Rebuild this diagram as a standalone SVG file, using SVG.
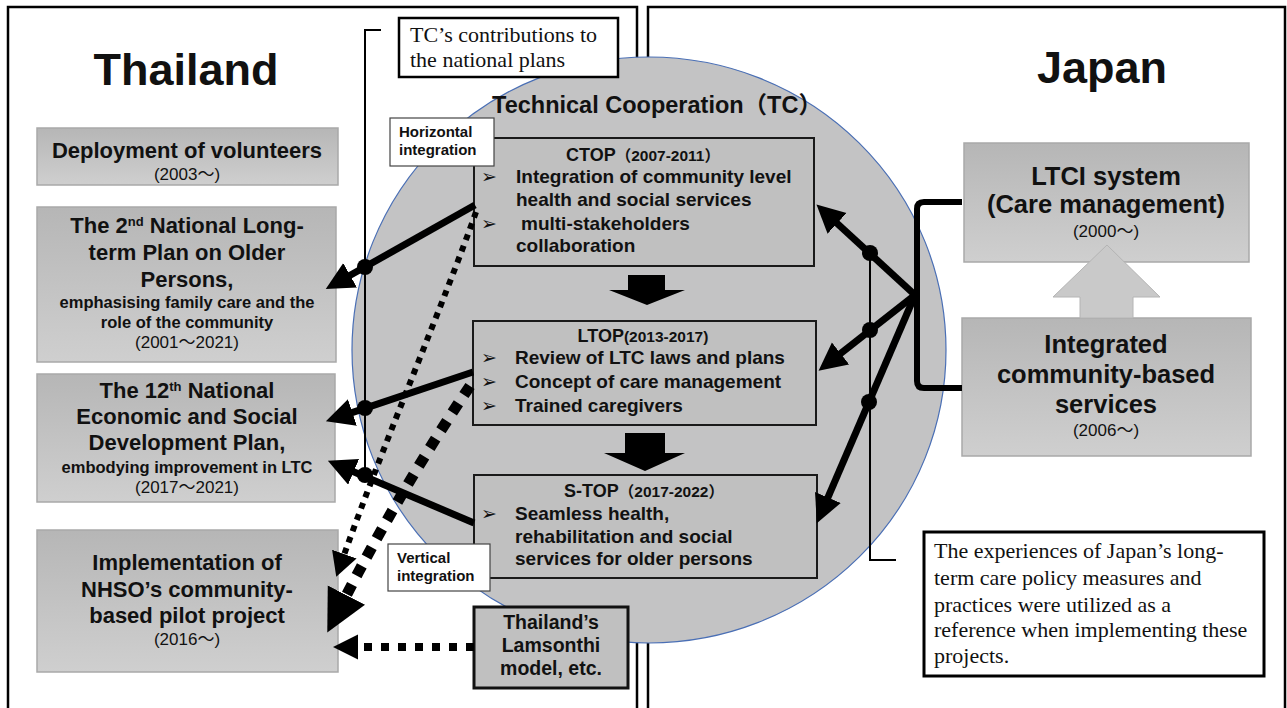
<svg xmlns="http://www.w3.org/2000/svg" width="1287" height="708" viewBox="0 0 1287 708">
<defs>
<style>
.t{font-family:"Liberation Sans","Noto Sans CJK JP",sans-serif;font-weight:bold;fill:#111;}
.big{font-size:45px;}
.h{font-size:22px;}
.s{font-size:16.5px;}
.y{font-size:17px;font-weight:normal;}
.tc{font-size:19px;}
.ti{font-size:18px;}
.jp{font-size:25.5px;}
.lab{font-size:15px;}
.serif{font-family:"Liberation Serif","Noto Sans CJK JP",serif;font-size:22px;fill:#111;}
.bul{font-family:"DejaVu Sans",sans-serif;font-size:19px;font-weight:normal;}
.gb{fill:url(#grad);stroke:#a9a9a9;stroke-width:1.5;}
.tb{fill:#c0c0c0;stroke:#1a1a1a;stroke-width:2;}
.wb{fill:#fff;stroke:#444;stroke-width:1.2;}
.sol{stroke:#000;stroke-width:7;fill:none;}
.thin{stroke:#000;stroke-width:2;fill:none;}
</style>
<linearGradient id="grad" x1="0" y1="0" x2="0" y2="1">
<stop offset="0" stop-color="#b6b6b6"/>
<stop offset="1" stop-color="#cfcfcf"/>
</linearGradient>
<marker id="ah" markerUnits="userSpaceOnUse" markerWidth="30" markerHeight="30" refX="2" refY="14" orient="auto">
<path d="M0,0 L28,14 L0,28 z" fill="#000"/>
</marker>
<marker id="ahs" markerUnits="userSpaceOnUse" markerWidth="26" markerHeight="28" refX="1" refY="13" orient="auto">
<path d="M0,0 L24,13 L0,26 z" fill="#000"/>
</marker>
<marker id="ahb" markerUnits="userSpaceOnUse" markerWidth="44" markerHeight="44" refX="1" refY="21" orient="auto">
<path d="M0,0 L42,21 L0,42 z" fill="#000"/>
</marker>
<marker id="ahl" markerUnits="userSpaceOnUse" markerWidth="27" markerHeight="27" refX="1" refY="12.5" orient="auto">
<path d="M0,0 L25,12.5 L0,25 z" fill="#000"/>
</marker>
</defs>

<!-- panels -->
<g id="panels">
<rect x="8" y="7" width="629" height="720" fill="#fff" stroke="#000" stroke-width="2.5"/>
<rect x="648" y="7" width="637" height="720" fill="#fff" stroke="#000" stroke-width="2.5"/>
</g>

<!-- TC circle -->
<g id="tc-circle">
<ellipse cx="649" cy="350" rx="297" ry="293" fill="#c3c3c4" stroke="#4a6fb5" stroke-width="1.2"/>
<text class="t" x="657" y="113" font-size="23.5" text-anchor="middle">Technical Cooperation（TC）</text>
</g>

<g id="thailand-title"><text class="t big" x="186" y="85" text-anchor="middle">Thailand</text></g>
<g id="japan-title"><text class="t big" x="1102" y="83" text-anchor="middle" font-size="42">Japan</text></g>

<g id="deployment">
<rect class="gb" x="37" y="128" width="301" height="57"/>
<text class="t" text-anchor="middle"><tspan class="h" x="187" y="158">Deployment of volunteers</tspan><tspan class="y" x="187" y="180">(2003～)</tspan></text>
</g>

<g id="plan2">
<rect class="gb" x="37" y="207" width="299" height="155"/>
<text class="t" text-anchor="middle"><tspan class="h" x="187" y="233">The 2<tspan font-size="13" baseline-shift="super">nd</tspan> National Long-</tspan><tspan class="h" x="187" y="260">term Plan on Older</tspan><tspan class="h" x="187" y="287">Persons,</tspan><tspan class="s" x="187" y="308">emphasising family care and the</tspan><tspan class="s" x="187" y="328">role of the community</tspan><tspan class="y" x="187" y="348">(2001～2021)</tspan></text>
</g>

<g id="plan12">
<rect class="gb" x="37" y="374" width="298" height="128"/>
<text class="t" text-anchor="middle"><tspan class="h" x="187" y="398">The 12<tspan font-size="13" baseline-shift="super">th</tspan> National</tspan><tspan class="h" x="187" y="424">Economic and Social</tspan><tspan class="h" x="187" y="450">Development Plan,</tspan><tspan class="s" x="187" y="473">embodying improvement in LTC</tspan><tspan class="y" x="187" y="493">(2017～2021)</tspan></text>
</g>

<g id="nhso">
<rect class="gb" x="37" y="530" width="301" height="142"/>
<text class="t" text-anchor="middle"><tspan class="h" x="187" y="570">Implementation of</tspan><tspan class="h" x="187" y="597">NHSO’s community-</tspan><tspan class="h" x="187" y="623">based pilot project</tspan><tspan class="y" x="187" y="645">(2016～)</tspan></text>
</g>

<g id="tc-contrib">
<rect x="399" y="18" width="219" height="59" fill="#fff" stroke="#000" stroke-width="2.5"/>
<text class="serif"><tspan x="410" y="42">TC’s contributions to</tspan><tspan x="410" y="67">the national plans</tspan></text>
</g>

<g id="ctop">
<rect class="tb" x="474" y="138" width="340" height="128"/>
<text class="t ti" x="643" y="161" text-anchor="middle">CTOP<tspan font-size="15.5">（2007-2011）</tspan></text>
<text class="t tc"><tspan class="bul" x="481" y="183">➢</tspan><tspan x="516" y="183">Integration of community level</tspan><tspan x="516" y="206">health and social services</tspan><tspan class="bul" x="481" y="230">➢</tspan><tspan x="521" y="230">multi-stakeholders</tspan><tspan x="516" y="252">collaboration</tspan></text>
</g>

<g id="ltop">
<rect class="tb" x="473" y="321" width="343" height="104"/>
<text class="t ti" x="643" y="342" text-anchor="middle">LTOP<tspan font-size="15.5">(2013-2017)</tspan></text>
<text class="t tc"><tspan class="bul" x="481" y="364">➢</tspan><tspan x="515" y="364">Review of LTC laws and plans</tspan><tspan class="bul" x="481" y="388">➢</tspan><tspan x="515" y="388">Concept of care management</tspan><tspan class="bul" x="481" y="412">➢</tspan><tspan x="515" y="412">Trained caregivers</tspan></text>
</g>

<g id="stop">
<rect class="tb" x="474" y="475" width="343" height="103"/>
<text class="t ti" x="644" y="497" text-anchor="middle">S-TOP<tspan font-size="15.5">（2017-2022）</tspan></text>
<text class="t tc"><tspan class="bul" x="481" y="520">➢</tspan><tspan x="515" y="520">Seamless health,</tspan><tspan x="515" y="543">rehabilitation and social</tspan><tspan x="515" y="565">services for older persons</tspan></text>
</g>

<g id="horizontal">
<rect class="wb" x="390" y="118" width="104" height="48"/>
<text class="t lab"><tspan x="399" y="137">Horizontal</tspan><tspan x="399" y="155">integration</tspan></text>
</g>

<g id="vertical">
<rect class="wb" x="388" y="544" width="102" height="47"/>
<text class="t lab"><tspan x="397" y="563">Vertical</tspan><tspan x="397" y="581">integration</tspan></text>
</g>

<g id="lamsonthi">
<rect x="474" y="607" width="154" height="81" fill="#c0c0c0" stroke="#111" stroke-width="3"/>
<text class="t" font-size="19.5" text-anchor="middle"><tspan x="551" y="629">Thailand’s</tspan><tspan x="551" y="652">Lamsonthi</tspan><tspan x="551" y="675">model, etc.</tspan></text>
</g>

<g id="ltci">
<rect class="gb" x="964" y="143" width="285" height="119"/>
<text class="t" text-anchor="middle"><tspan class="jp" x="1106" y="185">LTCI system</tspan><tspan class="jp" x="1106" y="213">(Care management)</tspan><tspan class="y" x="1106" y="237">(2000～)</tspan></text>
</g>

<g id="integrated">
<rect class="gb" x="962" y="318" width="289" height="138"/>
<text class="t" text-anchor="middle"><tspan class="jp" x="1106" y="353">Integrated</tspan><tspan class="jp" x="1106" y="383">community-based</tspan><tspan class="jp" x="1106" y="413">services</tspan><tspan class="y" x="1106" y="436">(2006～)</tspan></text>
</g>

<g id="experiences">
<rect x="924" y="532" width="340" height="144" fill="#fff" stroke="#000" stroke-width="3"/>
<text class="serif"><tspan x="934" y="558">The experiences of Japan’s long-</tspan><tspan x="934" y="585">term care policy measures and</tspan><tspan x="934" y="612">practices were utilized as a</tspan><tspan x="934" y="637">reference when implementing these</tspan><tspan x="934" y="663">projects.</tspan></text>
</g>

<!-- connectors -->
<g id="connectors">
<polygon points="628,275 665,275 665,290 685,290 647,305 609,290 628,290" fill="#000"/>
<polygon points="625,433 665,433 665,453 685,453 645,471 604,453 625,453" fill="#000"/>
<polygon points="1107,245 1160,297 1133,297 1133,318 1080,318 1080,297 1053,297" fill="#c9c9c9" stroke="#b4b4b4" stroke-width="1"/>
<path class="thin" d="M381,30 H365 V475"/>
<path class="thin" d="M870,253 V560 H896"/>
<path d="M962,202 H924 Q917,202 917,209 V381 Q917,388 924,388 H962" fill="none" stroke="#000" stroke-width="6"/>
<line class="sol" x1="475" y1="205" x2="348.4" y2="276.3" marker-end="url(#ah)"/>
<line class="sol" x1="473" y1="372" x2="350.5" y2="413.1" marker-end="url(#ah)"/>
<line class="sol" x1="474" y1="523" x2="351.8" y2="471" marker-end="url(#ah)"/>
<circle cx="365" cy="267" r="8"/>
<circle cx="365" cy="408" r="8"/>
<circle cx="365" cy="475" r="8"/>
<line class="sol" x1="915" y1="295" x2="835.6" y2="222" marker-end="url(#ah)"/>
<line class="sol" x1="915" y1="295" x2="839" y2="354.7" marker-end="url(#ah)"/>
<line class="sol" x1="915" y1="295" x2="827.1" y2="499.3" marker-end="url(#ah)"/>
<circle cx="870" cy="253" r="8"/>
<circle cx="870" cy="330" r="8"/>
<circle cx="869" cy="402" r="8"/>
<path d="M476,212 C445,300 385,440 344,555" fill="none" stroke="#000" stroke-width="6" stroke-dasharray="6 6" marker-end="url(#ahs)"/>
<path d="M470,386 C430,445 385,520 346,596" fill="none" stroke="#000" stroke-width="11" stroke-dasharray="11 10" marker-end="url(#ahb)"/>
<path d="M474,647 H357" fill="none" stroke="#000" stroke-width="8" stroke-dasharray="8 9" marker-end="url(#ahl)"/>
</g>
</svg>
